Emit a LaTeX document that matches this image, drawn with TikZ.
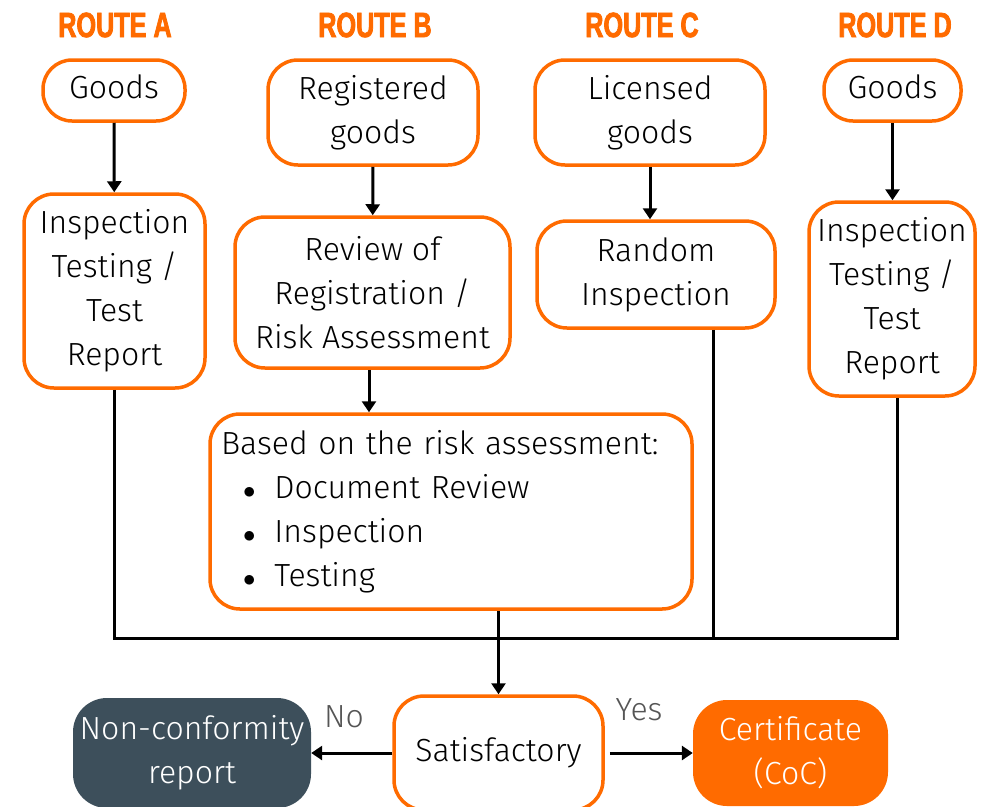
\documentclass[tikz,border=0pt]{standalone}
\usepackage{fontspec}
\setmainfont{Fira Sans}[UprightFont={* Light}]
\newfontfamily\headfont{Liberation Sans}[FakeStretch=0.72, BoldFeatures={FakeBold=2.2}]
\usepackage{tikz}
\usetikzlibrary{arrows.meta,calc}
\definecolor{routeorange}{HTML}{FF6B00}
\definecolor{slate}{HTML}{3D4F5B}
\definecolor{answergray}{HTML}{555555}
\newcommand{\bodyfont}{\fontsize{32}{44}\selectfont}
\tikzset{
  box/.style={draw=routeorange, line width=3.5pt, rounded corners=30pt, align=center, inner sep=0pt, font=\bodyfont},
  endbox/.style={rounded corners=34pt, align=center, inner sep=0pt, text=white, font=\bodyfont},
  route/.style={text=routeorange, font=\headfont\bfseries\fontsize{35}{40}\selectfont},
  answer/.style={text=answergray, font=\bodyfont},
  flow/.style={-{Triangle[length=11pt,width=14pt]}, line width=3pt},
  bus/.style={line width=3pt}
}

\begin{document}
\begin{tikzpicture}[x=1pt,y=-1pt]
          \useasboundingbox (0,0) rectangle (984,806);
          \clip (0,0) rectangle (984,806);

          % headers
          \node[route] (routeA) at (115,25) {ROUTE A};
          \node[route] (routeB) at (375,25) {ROUTE B};
          \node[route] (routeC) at (642,25) {ROUTE C};
          \node[route] (routeD) at (895,25) {ROUTE D};

          % first row
          \node[box, rounded corners=29pt, text depth=8pt, minimum width=142pt, minimum height=61pt] (goodsA) at (114,90.5) {Goods};
          \node[box, minimum width=210pt, minimum height=105pt] (regB) at (373,112.5) {Registered\\goods};
          \node[box, minimum width=230pt, minimum height=105pt] (licC) at (650,112.5) {Licensed\\goods};
          \node[box, rounded corners=29pt, text depth=8pt, minimum width=137pt, minimum height=61pt] (goodsD) at (892.5,90.5) {Goods};

          % second row
          \node[box, minimum width=181pt, minimum height=194pt] (inspA) at (114.5,291) {Inspection\\Testing /\\Test\\Report};
          \node[box, minimum width=275pt, minimum height=151pt] (reviewB) at (372.5,292.5) {Review of\\Registration /\\Risk Assessment};
          \node[box, minimum width=238pt, minimum height=107pt] (randomC) at (656,274.5) {Random\\Inspection};
          \node[box, minimum width=166pt, minimum height=194pt] (inspD) at (892,299) {Inspection\\Testing /\\Test\\Report};

          \node[box, minimum width=482pt, minimum height=195pt, text width=460pt, align=left] (riskB) at (451,511.5)
            {Based on the risk assessment:\\
             \hspace*{22pt}{\fontsize{24}{44}\selectfont$\bullet$}\hspace{19pt}Document Review\\
             \hspace*{22pt}{\fontsize{24}{44}\selectfont$\bullet$}\hspace{19pt}Inspection\\
             \hspace*{22pt}{\fontsize{24}{44}\selectfont$\bullet$}\hspace{19pt}Testing\\[4pt]};

          % bottom row
          \node[box, minimum width=209pt, minimum height=114pt] (satis) at (498.5,753) {Satisfactory};
          \node[endbox, fill=slate, minimum width=238pt, minimum height=110pt] (noncon) at (192,753) {Non-conformity\\report};
          \node[endbox, fill=routeorange, minimum width=195pt, minimum height=106pt] (cert) at (790.5,753) {Certificate\\(CoC)};

          \node[answer] (no) at (344,717) {No};
          \node[answer] (yes) at (639,710) {Yes};

          \coordinate (busL) at (114,638);
          \coordinate (busR) at (897,638);

          \draw[flow] (goodsA) to (inspA);
          \draw[flow] (regB) to (reviewB);
          \draw[flow] (licC.south) to (licC.south |- randomC.north);
          \draw[flow] (goodsD.south) to (goodsD.south |- inspD.north);
          \draw[flow] ([xshift=-3.5pt]reviewB.south) to ([xshift=-3.5pt]reviewB.south |- riskB.north);

          \draw[bus] (inspA.south -| busL) -- (busL) -- (busR) -- (busR |- inspD.south);
          \draw[bus] ([xshift=57pt]randomC.south) -- ([xshift=57pt]randomC.south |- busL);
          \draw[flow] (satis.north |- riskB.south) to (satis.north);

          \draw[flow] (satis.west) to (noncon.east);
          \draw[flow, shorten <=5pt] (satis.east) to (cert.west);
        \end{tikzpicture}
\end{document}
